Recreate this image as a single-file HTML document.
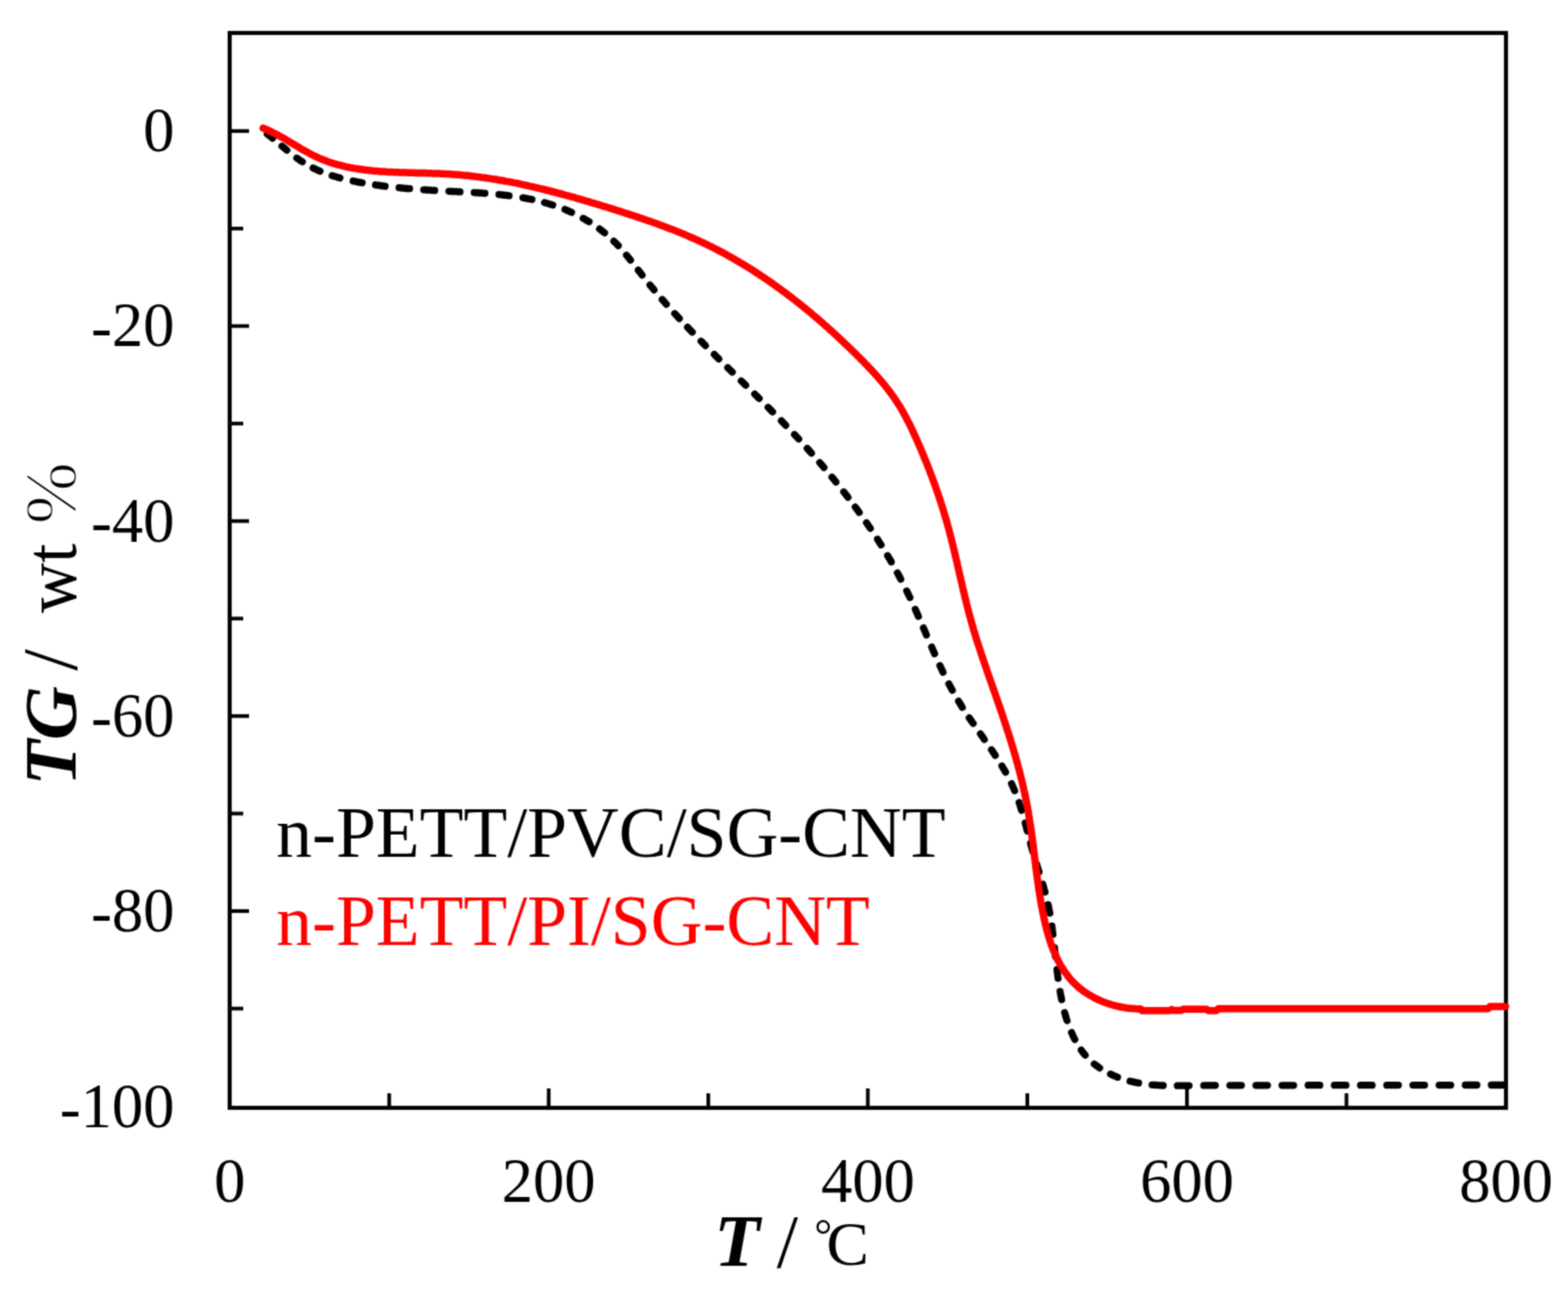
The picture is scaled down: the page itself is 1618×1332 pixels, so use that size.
<!DOCTYPE html>
<html><head><meta charset="utf-8"><style>
html,body{margin:0;padding:0;background:#fff;}
body{width:1618px;height:1332px;overflow:hidden;}
svg{display:block;}
text{font-family:"Liberation Serif","Noto Serif CJK SC",serif;}
</style></head><body>
<svg width="1618" height="1332" viewBox="0 0 1618 1332">
<defs><filter id="soft" filterUnits="userSpaceOnUse" x="0" y="0" width="1618" height="1332" color-interpolation-filters="sRGB"><feConvolveMatrix order="3" kernelMatrix="0.0400 0.1200 0.0400 0.1200 0.3600 0.1200 0.0400 0.1200 0.0400" edgeMode="duplicate" preserveAlpha="false"/></filter></defs>
<rect width="1618" height="1332" fill="#fff"/>
<g filter="url(#soft)">
<g stroke="#000" stroke-width="3.8" fill="none"><line x1="237.0" y1="1040.6" x2="251.0" y2="1040.6"/><line x1="237.0" y1="940.0" x2="257.0" y2="940.0"/><line x1="237.0" y1="839.4" x2="251.0" y2="839.4"/><line x1="237.0" y1="738.8" x2="257.0" y2="738.8"/><line x1="237.0" y1="638.2" x2="251.0" y2="638.2"/><line x1="237.0" y1="537.6" x2="257.0" y2="537.6"/><line x1="237.0" y1="437.0" x2="251.0" y2="437.0"/><line x1="237.0" y1="336.4" x2="257.0" y2="336.4"/><line x1="237.0" y1="235.8" x2="251.0" y2="235.8"/><line x1="237.0" y1="135.2" x2="257.0" y2="135.2"/><line x1="401.6" y1="1143.0" x2="401.6" y2="1128.0"/><line x1="566.2" y1="1143.0" x2="566.2" y2="1123.0"/><line x1="730.9" y1="1143.0" x2="730.9" y2="1128.0"/><line x1="895.5" y1="1143.0" x2="895.5" y2="1123.0"/><line x1="1060.1" y1="1143.0" x2="1060.1" y2="1128.0"/><line x1="1224.8" y1="1143.0" x2="1224.8" y2="1123.0"/><line x1="1389.4" y1="1143.0" x2="1389.4" y2="1128.0"/></g>
<rect x="237.0" y="34.0" width="1317.0" height="1109.0" fill="none" stroke="#000" stroke-width="4.2"/>
<path d="M275.8,138.3 L276.6,138.9 L277.4,139.5 L278.2,140.1 L279.0,140.8 L279.8,141.4 L280.5,142.0 L281.3,142.7 M291.0,150.8 L291.8,151.4 L292.5,152.0 L293.3,152.7 L294.1,153.3 L294.8,154.0 L295.6,154.6 L296.0,155.0 M306.2,163.0 L307.1,163.6 L307.9,164.1 L308.7,164.7 L309.5,165.3 L310.3,165.8 L311.1,166.4 L312.0,166.9 M323.1,173.3 L324.0,173.7 L324.8,174.2 L325.7,174.6 L326.6,175.0 L327.5,175.4 L328.4,175.8 L329.3,176.2 L330.2,176.6 M342.7,181.2 L343.7,181.5 L344.6,181.8 L345.6,182.1 L346.5,182.3 L347.5,182.6 L348.4,182.9 L349.4,183.2 L350.3,183.4 L350.8,183.6 M364.4,186.8 L365.4,187.0 L366.4,187.2 L367.4,187.4 L368.3,187.6 L369.3,187.8 L370.3,188.0 L371.3,188.1 L372.3,188.3 L373.2,188.5 L373.7,188.6 M387.5,190.8 L388.5,191.0 L389.5,191.1 L390.5,191.2 L391.5,191.4 L392.5,191.5 L393.4,191.6 L394.4,191.8 L395.4,191.9 L396.4,192.0 L397.4,192.2 M411.8,193.7 L412.8,193.8 L413.8,193.9 L414.7,194.0 L415.7,194.1 L416.7,194.2 L417.7,194.3 L418.7,194.4 L419.7,194.5 L420.7,194.6 L421.7,194.6 L422.7,194.7 M437.2,195.8 L438.2,195.9 L439.1,195.9 L440.1,196.0 L441.1,196.1 L442.1,196.1 L443.1,196.2 L444.1,196.2 L445.1,196.3 L446.1,196.4 L447.1,196.4 L448.1,196.5 L448.6,196.5 M463.2,197.3 L464.2,197.4 L465.2,197.4 L466.2,197.5 L467.2,197.5 L468.2,197.6 L469.2,197.6 L470.2,197.7 L471.2,197.7 L472.2,197.8 L473.2,197.8 L474.2,197.9 L474.7,197.9 M489.3,198.7 L490.3,198.8 L491.3,198.8 L492.3,198.9 L493.3,199.0 L494.4,199.0 L495.4,199.1 L496.4,199.2 L497.4,199.2 L498.4,199.3 L499.4,199.4 L500.4,199.5 M514.9,200.7 L515.9,200.8 L516.9,200.9 L517.9,201.0 L518.9,201.1 L519.9,201.3 L520.9,201.4 L521.9,201.5 L522.8,201.6 L523.8,201.7 L524.8,201.9 L525.3,201.9 M539.6,204.1 L540.6,204.2 L541.6,204.4 L542.5,204.6 L543.5,204.8 L544.5,205.0 L545.5,205.2 L546.4,205.3 L547.4,205.5 L548.4,205.7 L548.9,205.8 M561.9,209.0 L562.8,209.3 L563.8,209.5 L564.7,209.8 L565.7,210.1 L566.6,210.4 L567.6,210.7 L568.5,210.9 L569.4,211.2 L570.4,211.5 M583.0,216.1 L583.9,216.5 L584.8,216.9 L585.7,217.3 L586.6,217.7 L587.5,218.1 L588.5,218.5 L589.4,218.9 L589.8,219.1 M601.8,225.3 L602.7,225.8 L603.6,226.3 L604.5,226.8 L605.3,227.3 L606.2,227.8 L607.0,228.3 L607.9,228.8 M618.7,236.2 L619.5,236.8 L620.2,237.4 L621.0,238.0 L621.8,238.6 L622.6,239.3 L623.4,239.9 L623.8,240.2 M633.4,248.9 L634.2,249.6 L634.9,250.3 L635.6,251.0 L636.3,251.7 L636.9,252.4 L637.6,253.2 L638.0,253.5 M646.5,263.3 L647.2,264.1 L647.8,264.9 L648.4,265.7 L649.0,266.4 L649.7,267.2 L650.3,268.0 L650.6,268.4 M658.6,278.7 L659.2,279.5 L659.9,280.3 L660.5,281.1 L661.1,281.9 L661.7,282.7 L662.3,283.5 L662.6,283.9 M670.7,294.1 L671.4,294.8 L672.0,295.6 L672.6,296.4 L673.3,297.2 L673.9,297.9 L674.6,298.7 L674.9,299.1 M683.3,309.0 L683.9,309.7 L684.6,310.5 L685.3,311.2 L685.9,312.0 L686.6,312.7 L687.2,313.5 L687.6,313.9 M696.2,323.5 L696.9,324.2 L697.6,325.0 L698.3,325.7 L698.9,326.4 L699.6,327.2 L700.3,327.9 L701.0,328.6 M709.5,337.7 L710.2,338.4 L710.9,339.1 L711.6,339.8 L712.3,340.6 L712.9,341.3 L713.6,342.0 L714.3,342.7 M723.4,352.0 L724.1,352.7 L724.8,353.4 L725.5,354.1 L726.2,354.8 L726.9,355.5 L727.6,356.2 L727.9,356.6 M737.1,365.7 L737.8,366.4 L738.5,367.1 L739.2,367.8 L739.9,368.5 L740.6,369.2 L741.4,369.9 L741.7,370.3 M751.0,379.4 L751.7,380.1 L752.4,380.8 L753.1,381.5 L753.8,382.2 L754.5,382.9 L755.2,383.5 L755.6,383.9 M764.9,393.0 L765.6,393.7 L766.3,394.3 L767.0,395.0 L767.7,395.7 L768.4,396.4 L769.1,397.1 L769.5,397.5 M778.8,406.6 L779.5,407.3 L780.2,408.0 L780.9,408.7 L781.6,409.4 L782.3,410.1 L783.0,410.8 L783.4,411.1 M792.6,420.3 L793.3,421.0 L794.0,421.7 L794.7,422.4 L795.4,423.1 L796.1,423.8 L796.8,424.5 L797.2,424.9 M806.3,434.2 L807.0,434.9 L807.7,435.6 L808.4,436.3 L809.1,437.0 L809.8,437.8 L810.5,438.5 L810.8,438.8 M819.8,448.3 L820.5,449.0 L821.1,449.7 L821.8,450.5 L822.5,451.2 L823.2,451.9 L823.9,452.7 L824.2,453.0 M833.0,462.7 L833.7,463.4 L834.3,464.2 L835.0,464.9 L835.7,465.6 L836.3,466.4 L837.0,467.1 L837.3,467.5 M845.9,477.3 L846.6,478.1 L847.2,478.8 L847.9,479.6 L848.5,480.4 L849.2,481.1 L849.8,481.9 L850.2,482.3 M858.5,492.3 L859.2,493.0 L859.8,493.8 L860.4,494.6 L861.1,495.4 L861.7,496.1 L862.3,496.9 L862.6,497.3 M870.7,507.5 L871.3,508.3 L872.0,509.1 L872.6,509.9 L873.2,510.7 L873.8,511.5 L874.4,512.3 L875.0,513.1 M882.5,523.1 L883.1,523.9 L883.7,524.7 L884.3,525.5 L884.9,526.3 L885.5,527.1 L886.0,527.9 L886.6,528.7 M894.1,539.3 L894.7,540.1 L895.2,541.0 L895.8,541.8 L896.4,542.6 L896.9,543.4 L897.5,544.3 L898.1,545.1 M905.5,556.3 L906.0,557.2 L906.5,558.0 L907.1,558.9 L907.6,559.7 L908.1,560.6 L908.7,561.4 L909.2,562.2 M915.9,573.3 L916.4,574.2 L916.9,575.0 L917.5,575.9 L918.0,576.7 L918.5,577.6 L919.0,578.5 L919.5,579.3 L919.7,579.8 M926.0,591.1 L926.5,592.0 L927.0,592.8 L927.4,593.7 L927.9,594.6 L928.4,595.5 L928.9,596.3 L929.3,597.2 L929.5,597.7 M935.6,609.7 L936.1,610.6 L936.5,611.5 L936.9,612.4 L937.4,613.3 L937.8,614.2 L938.2,615.1 L938.7,616.0 L938.9,616.4 M944.5,628.7 L944.9,629.6 L945.3,630.5 L945.7,631.4 L946.1,632.3 L946.5,633.2 L946.9,634.1 L947.3,635.1 L947.7,636.0 M952.9,647.9 L953.3,648.8 L953.7,649.7 L954.1,650.7 L954.5,651.6 L954.9,652.5 L955.3,653.4 L955.6,654.3 L956.0,655.2 M961.4,667.6 L961.8,668.6 L962.2,669.5 L962.6,670.4 L963.0,671.3 L963.4,672.2 L963.8,673.1 L964.2,674.1 L964.4,674.5 M969.9,686.8 L970.4,687.7 L970.8,688.6 L971.2,689.5 L971.6,690.4 L972.1,691.3 L972.5,692.2 L972.9,693.1 L973.1,693.6 M979.1,705.6 L979.6,706.5 L980.1,707.4 L980.5,708.2 L981.0,709.1 L981.5,710.0 L981.9,710.9 L982.4,711.7 L982.7,712.2 M989.1,723.4 L989.6,724.3 L990.1,725.1 L990.7,726.0 L991.2,726.8 L991.7,727.7 L992.2,728.5 L992.8,729.4 L993.0,729.8 M1000.2,740.7 L1000.8,741.5 L1001.3,742.3 L1001.9,743.1 L1002.5,744.0 L1003.0,744.8 L1003.6,745.6 L1004.2,746.4 M1011.7,757.1 L1012.3,757.9 L1012.8,758.8 L1013.4,759.6 L1014.0,760.4 L1014.6,761.2 L1015.1,762.0 L1015.7,762.9 M1023.1,773.6 L1023.7,774.4 L1024.2,775.2 L1024.8,776.0 L1025.3,776.9 L1025.9,777.7 L1026.5,778.5 L1027.0,779.4 M1033.9,790.3 L1034.4,791.2 L1034.9,792.0 L1035.4,792.9 L1035.9,793.7 L1036.4,794.6 L1036.9,795.5 L1037.4,796.3 L1037.6,796.7 M1043.8,808.6 L1044.2,809.5 L1044.6,810.4 L1045.0,811.3 L1045.4,812.2 L1045.8,813.1 L1046.2,814.0 L1046.6,814.9 L1047.0,815.8 M1051.6,827.9 L1051.9,828.9 L1052.2,829.8 L1052.5,830.8 L1052.8,831.7 L1053.1,832.7 L1053.4,833.6 L1053.7,834.6 L1054.0,835.6 L1054.2,836.0 M1057.9,849.1 L1058.1,850.1 L1058.4,851.1 L1058.6,852.0 L1058.9,853.0 L1059.2,854.0 L1059.4,855.0 L1059.7,855.9 L1059.9,856.9 L1060.1,857.4 M1063.4,870.1 L1063.7,871.1 L1063.9,872.1 L1064.2,873.0 L1064.5,874.0 L1064.7,875.0 L1065.0,876.0 L1065.3,876.9 L1065.6,877.9 L1065.7,878.4 M1069.6,891.3 L1069.9,892.3 L1070.2,893.3 L1070.5,894.2 L1070.8,895.2 L1071.1,896.1 L1071.4,897.1 L1071.7,898.0 L1072.0,899.0 L1072.1,899.5 M1076.0,912.3 L1076.3,913.3 L1076.6,914.2 L1076.8,915.2 L1077.1,916.1 L1077.4,917.1 L1077.7,918.0 L1077.9,919.0 L1078.2,919.9 L1078.3,920.4 M1081.5,933.4 L1081.7,934.3 L1081.9,935.3 L1082.1,936.3 L1082.3,937.2 L1082.5,938.2 L1082.7,939.2 L1082.9,940.2 L1083.1,941.1 L1083.3,942.1 M1085.4,955.3 L1085.5,956.3 L1085.7,957.3 L1085.8,958.3 L1085.9,959.2 L1086.0,960.2 L1086.2,961.2 L1086.3,962.2 L1086.4,963.2 L1086.5,964.2 M1088.2,978.0 L1088.3,979.0 L1088.4,980.0 L1088.5,981.0 L1088.6,982.0 L1088.7,983.0 L1088.8,984.0 L1088.9,985.0 L1089.0,986.0 L1089.1,987.0 M1090.7,1000.4 L1090.8,1001.4 L1090.9,1002.4 L1091.0,1003.4 L1091.2,1004.4 L1091.3,1005.4 L1091.4,1006.4 L1091.5,1007.4 L1091.7,1008.4 L1091.8,1009.4 M1093.9,1022.9 L1094.1,1023.9 L1094.2,1024.9 L1094.4,1025.9 L1094.6,1026.9 L1094.8,1027.8 L1095.0,1028.8 L1095.2,1029.8 L1095.4,1030.8 L1095.5,1031.3 M1098.6,1044.7 L1098.9,1045.7 L1099.2,1046.7 L1099.4,1047.6 L1099.7,1048.6 L1100.0,1049.6 L1100.3,1050.6 L1100.6,1051.5 L1100.9,1052.5 L1101.1,1053.0 M1105.7,1065.3 L1106.1,1066.2 L1106.5,1067.1 L1106.9,1068.0 L1107.3,1068.9 L1107.7,1069.8 L1108.2,1070.7 L1108.6,1071.6 L1109.1,1072.5 M1115.7,1083.4 L1116.2,1084.2 L1116.8,1084.9 L1117.4,1085.7 L1118.0,1086.5 L1118.6,1087.2 L1119.2,1088.0 L1119.8,1088.7 M1129.2,1097.8 L1130.0,1098.4 L1130.7,1099.0 L1131.5,1099.6 L1132.3,1100.2 L1133.1,1100.7 L1133.9,1101.3 L1134.7,1101.9 M1145.9,1108.2 L1146.8,1108.6 L1147.7,1109.0 L1148.6,1109.5 L1149.5,1109.9 L1150.4,1110.2 L1151.3,1110.6 L1152.3,1111.0 L1153.2,1111.4 M1166.1,1115.5 L1167.1,1115.7 L1168.1,1116.0 L1169.1,1116.2 L1170.0,1116.4 L1171.0,1116.6 L1172.0,1116.8 L1173.0,1117.0 L1174.0,1117.2 L1174.9,1117.4 M1188.8,1119.3 L1189.8,1119.3 L1190.8,1119.4 L1191.8,1119.5 L1192.8,1119.6 L1193.8,1119.6 L1194.8,1119.7 L1195.8,1119.8 L1196.8,1119.8 L1197.8,1119.9 L1198.8,1119.9 L1199.8,1120.0 L1200.3,1120.0 M1214.9,1120.2 L1215.9,1120.2 L1216.9,1120.2 L1218.0,1120.2 L1219.0,1120.2 L1220.0,1120.2 L1221.0,1120.2 L1222.0,1120.1 L1223.0,1120.1 L1224.0,1120.1 L1225.0,1120.1 L1226.0,1120.1 L1227.0,1120.1 M1242.1,1119.9 L1243.1,1119.9 L1244.1,1119.9 L1245.1,1119.9 L1246.1,1119.9 L1247.1,1119.9 L1248.1,1119.9 L1249.1,1119.8 L1250.1,1119.8 L1251.1,1119.8 L1252.1,1119.8 L1253.1,1119.8 L1254.1,1119.8 M1269.1,1119.8 L1270.1,1119.8 L1271.1,1119.8 L1272.1,1119.8 L1273.1,1119.8 L1274.1,1119.8 L1275.1,1119.8 L1276.1,1119.8 L1277.0,1119.8 L1278.0,1119.8 L1279.0,1119.8 L1280.0,1119.8 L1281.0,1119.8 M1296.0,1119.8 L1297.0,1119.8 L1298.0,1119.8 L1299.0,1119.8 L1300.0,1119.8 L1301.0,1119.8 L1302.0,1119.8 L1303.0,1119.8 L1304.0,1119.8 L1305.0,1119.8 L1306.0,1119.8 L1307.0,1119.8 L1307.9,1119.8 M1322.9,1119.8 L1323.9,1119.8 L1324.9,1119.8 L1325.9,1119.8 L1326.9,1119.8 L1327.9,1119.8 L1328.9,1119.8 L1329.9,1119.8 L1330.9,1119.8 L1331.9,1119.8 L1332.9,1119.8 L1333.9,1119.8 L1334.9,1119.8 M1349.9,1119.7 L1350.9,1119.7 L1351.9,1119.7 L1352.9,1119.7 L1353.9,1119.7 L1354.9,1119.7 L1355.9,1119.7 L1356.9,1119.7 L1357.9,1119.7 L1358.9,1119.7 L1359.9,1119.7 L1360.9,1119.7 L1361.9,1119.7 M1376.9,1119.7 L1377.9,1119.7 L1378.9,1119.7 L1379.9,1119.7 L1380.9,1119.7 L1381.9,1119.7 L1382.9,1119.7 L1383.9,1119.7 L1384.9,1119.7 L1385.9,1119.7 L1386.9,1119.7 L1387.9,1119.7 L1388.9,1119.7 M1403.9,1119.7 L1404.9,1119.7 L1405.9,1119.7 L1406.9,1119.7 L1407.9,1119.7 L1408.9,1119.7 L1409.9,1119.7 L1410.9,1119.7 L1411.9,1119.7 L1412.9,1119.7 L1413.9,1119.7 L1414.9,1119.7 L1415.9,1119.7 M1431.0,1119.7 L1432.0,1119.7 L1433.0,1119.7 L1434.0,1119.7 L1435.0,1119.6 L1436.0,1119.6 L1437.0,1119.6 L1438.0,1119.6 L1439.0,1119.6 L1440.0,1119.6 L1441.0,1119.6 L1442.0,1119.6 L1443.0,1119.6 M1458.0,1119.6 L1459.0,1119.6 L1460.0,1119.6 L1461.0,1119.6 L1462.0,1119.6 L1463.0,1119.6 L1464.0,1119.6 L1465.0,1119.6 L1466.0,1119.6 L1467.0,1119.6 L1468.0,1119.6 L1469.0,1119.6 L1470.0,1119.6 M1485.0,1119.6 L1486.0,1119.6 L1487.0,1119.6 L1488.0,1119.6 L1489.0,1119.6 L1490.0,1119.6 L1491.0,1119.6 L1492.0,1119.6 L1493.0,1119.6 L1494.0,1119.6 L1495.0,1119.6 L1496.0,1119.6 L1497.0,1119.6 M1512.0,1119.5 L1513.0,1119.5 L1514.0,1119.5 L1515.0,1119.5 L1516.0,1119.5 L1517.0,1119.5 L1518.0,1119.5 L1519.0,1119.5 L1520.0,1119.5 L1521.0,1119.5 L1522.0,1119.5 L1523.0,1119.5 L1524.0,1119.5 M1538.9,1119.5 L1539.9,1119.5 L1540.9,1119.5 L1541.9,1119.5 L1542.9,1119.5 L1543.9,1119.5 L1544.9,1119.5 L1545.9,1119.5 L1546.9,1119.5 L1547.9,1119.5 L1548.9,1119.5 L1549.9,1119.5 L1550.9,1119.5" fill="none" stroke="#000" stroke-width="7.3" stroke-linecap="round" stroke-linejoin="round"/>
<path d="M271.5,132.2 L273.3,132.9 L275.1,133.7 L276.8,134.5 L278.6,135.3 L280.4,136.1 L282.1,137.0 L283.9,137.9 L285.6,138.8 L287.4,139.7 L289.1,140.7 L290.8,141.7 L292.6,142.6 L294.3,143.6 L296.0,144.7 L297.7,145.7 L299.4,146.7 L301.2,147.7 L302.9,148.8 L304.6,149.8 L306.3,150.8 L308.1,151.8 L309.8,152.9 L311.5,153.9 L313.2,154.9 L315.0,155.9 L316.7,156.8 L318.5,157.8 L320.2,158.7 L322.0,159.7 L323.8,160.6 L325.6,161.4 L327.4,162.3 L329.2,163.1 L331.0,163.9 L332.8,164.6 L334.6,165.3 L336.5,166.0 L338.3,166.7 L340.2,167.4 L342.1,168.0 L344.0,168.6 L345.8,169.1 L347.7,169.7 L349.6,170.2 L351.6,170.7 L353.5,171.2 L355.4,171.6 L357.3,172.1 L359.3,172.5 L361.2,172.9 L363.2,173.2 L365.1,173.6 L367.1,173.9 L369.0,174.2 L371.0,174.5 L373.0,174.8 L374.9,175.1 L376.9,175.3 L378.9,175.6 L380.9,175.8 L382.9,176.0 L384.9,176.2 L386.8,176.4 L388.8,176.5 L390.8,176.7 L392.8,176.9 L394.8,177.0 L396.8,177.1 L398.8,177.3 L400.8,177.4 L402.8,177.5 L404.8,177.6 L406.8,177.7 L408.8,177.7 L410.8,177.8 L412.8,177.9 L414.8,178.0 L416.9,178.0 L418.9,178.1 L420.9,178.2 L422.9,178.2 L424.9,178.3 L426.9,178.3 L428.9,178.4 L430.9,178.4 L432.9,178.5 L434.9,178.5 L437.0,178.6 L439.0,178.6 L441.0,178.7 L443.0,178.7 L445.0,178.8 L447.0,178.9 L449.0,178.9 L451.0,179.0 L453.0,179.1 L455.0,179.2 L457.0,179.3 L459.0,179.4 L461.0,179.5 L463.0,179.6 L465.0,179.7 L467.0,179.9 L469.0,180.0 L471.0,180.2 L473.0,180.3 L475.0,180.5 L477.0,180.7 L479.0,180.9 L481.0,181.1 L483.0,181.3 L484.9,181.5 L486.9,181.7 L488.9,181.9 L490.9,182.2 L492.9,182.4 L494.9,182.7 L496.8,183.0 L498.8,183.2 L500.8,183.5 L502.8,183.8 L504.7,184.1 L506.7,184.4 L508.7,184.7 L510.6,185.0 L512.6,185.3 L514.6,185.7 L516.5,186.0 L518.5,186.3 L520.5,186.7 L522.4,187.1 L524.4,187.4 L526.4,187.8 L528.3,188.2 L530.3,188.6 L532.2,188.9 L534.2,189.3 L536.1,189.7 L538.1,190.2 L540.0,190.6 L542.0,191.0 L543.9,191.4 L545.9,191.9 L547.8,192.3 L549.8,192.7 L551.7,193.2 L553.7,193.6 L555.6,194.1 L557.6,194.6 L559.5,195.0 L561.4,195.5 L563.4,196.0 L565.3,196.5 L567.3,197.0 L569.2,197.5 L571.1,198.0 L573.1,198.5 L575.0,199.0 L576.9,199.5 L578.9,200.0 L580.8,200.5 L582.7,201.1 L584.7,201.6 L586.6,202.1 L588.5,202.7 L590.4,203.2 L592.4,203.7 L594.3,204.3 L596.2,204.8 L598.2,205.4 L600.1,206.0 L602.0,206.5 L603.9,207.1 L605.8,207.6 L607.8,208.2 L609.7,208.8 L611.6,209.4 L613.5,209.9 L615.4,210.5 L617.4,211.1 L619.3,211.7 L621.2,212.3 L623.1,212.9 L625.0,213.4 L626.9,214.0 L628.8,214.6 L630.8,215.2 L632.7,215.8 L634.6,216.4 L636.5,217.0 L638.4,217.6 L640.3,218.2 L642.2,218.8 L644.1,219.5 L646.0,220.1 L647.9,220.7 L649.8,221.3 L651.8,221.9 L653.7,222.5 L655.6,223.2 L657.5,223.8 L659.3,224.4 L661.2,225.1 L663.1,225.7 L665.0,226.4 L666.9,227.0 L668.8,227.7 L670.7,228.3 L672.6,229.0 L674.5,229.7 L676.3,230.3 L678.2,231.0 L680.1,231.7 L682.0,232.4 L683.8,233.1 L685.7,233.8 L687.6,234.5 L689.4,235.2 L691.3,235.9 L693.2,236.6 L695.0,237.3 L696.9,238.1 L698.7,238.8 L700.6,239.6 L702.4,240.3 L704.3,241.1 L706.1,241.8 L707.9,242.6 L709.8,243.4 L711.6,244.2 L713.4,245.0 L715.3,245.8 L717.1,246.6 L718.9,247.4 L720.7,248.2 L722.5,249.1 L724.3,249.9 L726.1,250.8 L727.9,251.6 L729.7,252.5 L731.5,253.4 L733.3,254.2 L735.1,255.1 L736.8,256.0 L738.6,256.9 L740.4,257.8 L742.1,258.8 L743.9,259.7 L745.7,260.6 L747.4,261.6 L749.2,262.5 L750.9,263.5 L752.7,264.5 L754.4,265.5 L756.1,266.4 L757.9,267.4 L759.6,268.4 L761.3,269.4 L763.0,270.5 L764.8,271.5 L766.5,272.5 L768.2,273.5 L769.9,274.6 L771.6,275.6 L773.3,276.7 L775.0,277.8 L776.7,278.8 L778.3,279.9 L780.0,281.0 L781.7,282.1 L783.4,283.2 L785.0,284.3 L786.7,285.4 L788.4,286.5 L790.0,287.6 L791.7,288.8 L793.3,289.9 L795.0,291.0 L796.6,292.2 L798.2,293.3 L799.9,294.5 L801.5,295.7 L803.1,296.8 L804.8,298.0 L806.4,299.2 L808.0,300.4 L809.6,301.6 L811.2,302.8 L812.8,304.0 L814.4,305.2 L816.0,306.4 L817.6,307.6 L819.2,308.9 L820.8,310.1 L822.3,311.3 L823.9,312.6 L825.5,313.8 L827.1,315.1 L828.6,316.4 L830.2,317.6 L831.7,318.9 L833.3,320.2 L834.8,321.4 L836.4,322.7 L837.9,324.0 L839.4,325.3 L841.0,326.6 L842.5,327.9 L844.0,329.2 L845.6,330.5 L847.1,331.8 L848.6,333.1 L850.1,334.5 L851.6,335.8 L853.1,337.1 L854.6,338.5 L856.1,339.8 L857.6,341.1 L859.1,342.5 L860.5,343.8 L862.0,345.2 L863.5,346.5 L865.0,347.9 L866.4,349.3 L867.9,350.6 L869.3,352.0 L870.8,353.4 L872.2,354.8 L873.7,356.1 L875.1,357.5 L876.6,358.9 L878.0,360.3 L879.4,361.7 L880.9,363.1 L882.3,364.5 L883.7,365.9 L885.1,367.3 L886.5,368.7 L887.9,370.1 L889.3,371.5 L890.7,372.9 L892.1,374.4 L893.5,375.8 L894.9,377.2 L896.2,378.7 L897.6,380.1 L899.0,381.5 L900.3,383.0 L901.7,384.5 L903.0,385.9 L904.3,387.4 L905.6,388.9 L906.9,390.4 L908.2,391.9 L909.5,393.4 L910.8,394.9 L912.0,396.4 L913.3,397.9 L914.5,399.5 L915.7,401.0 L916.9,402.6 L918.1,404.1 L919.3,405.7 L920.4,407.3 L921.6,408.9 L922.7,410.5 L923.8,412.2 L924.9,413.8 L926.0,415.5 L927.1,417.1 L928.1,418.8 L929.2,420.5 L930.2,422.2 L931.2,423.9 L932.2,425.7 L933.1,427.4 L934.1,429.2 L935.0,430.9 L935.9,432.7 L936.9,434.5 L937.8,436.2 L938.7,438.0 L939.5,439.8 L940.4,441.6 L941.3,443.5 L942.1,445.3 L943.0,447.1 L943.8,448.9 L944.6,450.8 L945.5,452.6 L946.3,454.4 L947.1,456.3 L947.9,458.1 L948.7,459.9 L949.5,461.8 L950.3,463.6 L951.1,465.5 L951.8,467.3 L952.6,469.2 L953.4,471.0 L954.1,472.9 L954.9,474.7 L955.7,476.6 L956.4,478.5 L957.1,480.3 L957.9,482.2 L958.6,484.0 L959.3,485.9 L960.0,487.8 L960.7,489.7 L961.5,491.5 L962.2,493.4 L962.8,495.3 L963.5,497.1 L964.2,499.0 L964.9,500.9 L965.6,502.8 L966.2,504.7 L966.9,506.6 L967.5,508.4 L968.2,510.3 L968.8,512.2 L969.4,514.1 L970.1,516.0 L970.7,517.9 L971.3,519.8 L971.9,521.7 L972.5,523.6 L973.1,525.5 L973.7,527.4 L974.3,529.4 L974.8,531.3 L975.4,533.2 L976.0,535.1 L976.5,537.0 L977.1,538.9 L977.6,540.9 L978.1,542.8 L978.7,544.7 L979.2,546.7 L979.7,548.6 L980.2,550.5 L980.7,552.5 L981.2,554.4 L981.7,556.3 L982.2,558.3 L982.7,560.2 L983.2,562.2 L983.6,564.1 L984.1,566.1 L984.6,568.0 L985.0,570.0 L985.5,571.9 L985.9,573.9 L986.4,575.8 L986.9,577.8 L987.3,579.7 L987.8,581.7 L988.2,583.6 L988.7,585.6 L989.1,587.5 L989.5,589.5 L990.0,591.4 L990.4,593.4 L990.9,595.3 L991.3,597.3 L991.8,599.3 L992.2,601.2 L992.7,603.2 L993.1,605.1 L993.6,607.1 L994.0,609.0 L994.5,611.0 L995.0,612.9 L995.4,614.8 L995.9,616.8 L996.4,618.7 L996.9,620.7 L997.3,622.6 L997.8,624.6 L998.3,626.5 L998.8,628.4 L999.3,630.4 L999.8,632.3 L1000.3,634.2 L1000.8,636.1 L1001.4,638.1 L1001.9,640.0 L1002.4,641.9 L1003.0,643.8 L1003.5,645.7 L1004.1,647.7 L1004.6,649.6 L1005.2,651.5 L1005.8,653.4 L1006.4,655.3 L1006.9,657.2 L1007.5,659.1 L1008.1,661.0 L1008.7,662.9 L1009.3,664.8 L1010.0,666.7 L1010.6,668.6 L1011.2,670.4 L1011.8,672.3 L1012.4,674.2 L1013.1,676.1 L1013.7,678.0 L1014.3,679.9 L1015.0,681.8 L1015.6,683.7 L1016.3,685.5 L1016.9,687.4 L1017.6,689.3 L1018.2,691.2 L1018.9,693.1 L1019.5,695.0 L1020.2,696.8 L1020.8,698.7 L1021.5,700.6 L1022.1,702.5 L1022.8,704.4 L1023.5,706.3 L1024.1,708.1 L1024.8,710.0 L1025.4,711.9 L1026.1,713.8 L1026.8,715.7 L1027.4,717.6 L1028.1,719.5 L1028.8,721.4 L1029.4,723.3 L1030.1,725.1 L1030.7,727.0 L1031.4,728.9 L1032.0,730.8 L1032.7,732.7 L1033.3,734.6 L1034.0,736.5 L1034.6,738.4 L1035.2,740.4 L1035.9,742.3 L1036.5,744.2 L1037.1,746.1 L1037.8,748.0 L1038.4,749.9 L1039.0,751.8 L1039.6,753.7 L1040.3,755.7 L1040.9,757.6 L1041.5,759.5 L1042.1,761.4 L1042.7,763.3 L1043.3,765.3 L1043.9,767.2 L1044.4,769.1 L1045.0,771.0 L1045.6,773.0 L1046.2,774.9 L1046.7,776.8 L1047.3,778.8 L1047.8,780.7 L1048.4,782.6 L1048.9,784.6 L1049.5,786.5 L1050.0,788.4 L1050.5,790.4 L1051.0,792.3 L1051.6,794.2 L1052.1,796.2 L1052.6,798.1 L1053.1,800.1 L1053.5,802.0 L1054.0,803.9 L1054.5,805.9 L1055.0,807.8 L1055.4,809.8 L1055.9,811.7 L1056.3,813.7 L1056.7,815.6 L1057.2,817.6 L1057.6,819.5 L1058.0,821.5 L1058.4,823.4 L1058.8,825.4 L1059.2,827.3 L1059.5,829.3 L1059.9,831.2 L1060.3,833.2 L1060.6,835.1 L1060.9,837.1 L1061.3,839.0 L1061.6,841.0 L1061.9,842.9 L1062.2,844.9 L1062.5,846.8 L1062.8,848.8 L1063.1,850.7 L1063.4,852.7 L1063.7,854.6 L1064.0,856.6 L1064.2,858.6 L1064.5,860.5 L1064.8,862.5 L1065.0,864.4 L1065.3,866.4 L1065.6,868.4 L1065.8,870.3 L1066.1,872.3 L1066.3,874.3 L1066.6,876.2 L1066.8,878.2 L1067.0,880.2 L1067.3,882.1 L1067.5,884.1 L1067.8,886.1 L1068.0,888.1 L1068.3,890.0 L1068.5,892.0 L1068.8,894.0 L1069.0,896.0 L1069.3,898.0 L1069.5,899.9 L1069.8,901.9 L1070.1,903.9 L1070.3,905.9 L1070.6,907.9 L1070.9,909.9 L1071.2,911.9 L1071.4,913.9 L1071.7,915.9 L1072.0,917.9 L1072.3,919.9 L1072.6,921.9 L1073.0,923.9 L1073.3,925.9 L1073.6,927.9 L1073.9,929.9 L1074.3,931.9 L1074.6,933.9 L1075.0,936.0 L1075.4,938.0 L1075.8,940.0 L1076.2,942.0 L1076.6,944.0 L1077.0,946.0 L1077.4,948.0 L1077.9,950.0 L1078.3,952.0 L1078.8,954.0 L1079.3,956.0 L1079.8,958.0 L1080.3,960.0 L1080.8,961.9 L1081.4,963.9 L1082.0,965.8 L1082.5,967.8 L1083.2,969.7 L1083.8,971.6 L1084.4,973.5 L1085.1,975.4 L1085.8,977.3 L1086.5,979.1 L1087.2,981.0 L1088.0,982.8 L1088.8,984.6 L1089.6,986.4 L1090.4,988.2 L1091.3,989.9 L1092.2,991.7 L1093.1,993.4 L1094.0,995.1 L1095.0,996.8 L1096.0,998.4 L1097.0,1000.0 L1098.1,1001.7 L1099.1,1003.2 L1100.3,1004.8 L1101.4,1006.3 L1102.6,1007.8 L1103.8,1009.3 L1105.0,1010.8 L1106.3,1012.2 L1107.6,1013.6 L1109.0,1014.9 L1110.4,1016.3 L1111.8,1017.6 L1113.3,1018.9 L1114.7,1020.1 L1116.3,1021.3 L1117.8,1022.5 L1119.5,1023.6 L1121.1,1024.7 L1122.8,1025.8 L1124.5,1026.8 L1126.2,1027.8 L1128.0,1028.8 L1129.7,1029.7 L1131.5,1030.6 L1133.4,1031.5 L1135.2,1032.3 L1137.1,1033.1 L1139.0,1033.9 L1140.9,1034.6 L1142.9,1035.3 L1144.8,1035.9 L1146.8,1036.5 L1148.8,1037.1 L1150.8,1037.6 L1152.8,1038.1 L1154.8,1038.5 L1156.8,1039.0 L1158.8,1039.3 L1160.9,1039.7 L1162.9,1040.0 L1164.9,1040.2 L1167.0,1040.5 L1169.0,1040.6 L1171.1,1040.8 L1173.1,1040.9 L1175.1,1041.0 L1177.0,1041.0 L1178.5,1042.8 L1207.0,1042.8 L1209.0,1041.6 L1211.0,1042.4 L1219.0,1042.4 L1221.0,1041.3 L1245.0,1041.3 L1247.0,1042.8 L1255.0,1042.8 L1257.0,1040.8 L1535.5,1040.7 L1537.5,1038.4 L1553.5,1038.4" fill="none" stroke="#f00" stroke-width="7.5" stroke-linecap="round" stroke-linejoin="round"/>
<g font-size="64.5" fill="#000"><text x="180" y="156.2" text-anchor="end">0</text><text x="180" y="357.4" text-anchor="end"><tspan dy="1.5">-</tspan><tspan dy="-1.5">20</tspan></text><text x="180" y="558.6" text-anchor="end"><tspan dy="1.5">-</tspan><tspan dy="-1.5">40</tspan></text><text x="180" y="759.8" text-anchor="end"><tspan dy="1.5">-</tspan><tspan dy="-1.5">60</tspan></text><text x="180" y="961.0" text-anchor="end"><tspan dy="1.5">-</tspan><tspan dy="-1.5">80</tspan></text><text x="180" y="1163.0" text-anchor="end"><tspan dy="1.5">-</tspan><tspan dy="-1.5">100</tspan></text><text x="237.0" y="1240" text-anchor="middle">0</text><text x="566.2" y="1240" text-anchor="middle">200</text><text x="895.5" y="1240" text-anchor="middle">400</text><text x="1224.8" y="1240" text-anchor="middle">600</text><text x="1554.0" y="1240" text-anchor="middle">800</text></g>
<g fill="#000" font-size="77">
<text x="736.9" y="1305.5" font-weight="bold" font-style="italic">T</text>
<text x="801.5" y="1306.5" font-size="79">/</text>
<text x="840.3" y="1290.1" font-size="46">°</text>
<text transform="translate(852.8,1304.5) scale(1.045,1)" font-size="63">C</text>
</g>
<g fill="#000" font-size="77">
<text transform="translate(77.8,810.6) rotate(-90)" font-weight="bold" font-style="italic">TG</text>
<text transform="translate(78.8,692.1) rotate(-90)" font-size="80">/</text>
<text transform="translate(77.8,632.5) rotate(-90) scale(0.93,1)">wt</text>
<text transform="translate(77.8,541.0) rotate(-90)" stroke="#fff" stroke-width="1.6" style="paint-order:normal">%</text>
</g>
<text x="285" y="883.5" font-size="74" fill="#000">n-PETT/PVC/SG-CNT</text>
<text x="285" y="975" font-size="74" fill="#f00">n-PETT/PI/SG-CNT</text>
</g>
</svg>
</body></html>
